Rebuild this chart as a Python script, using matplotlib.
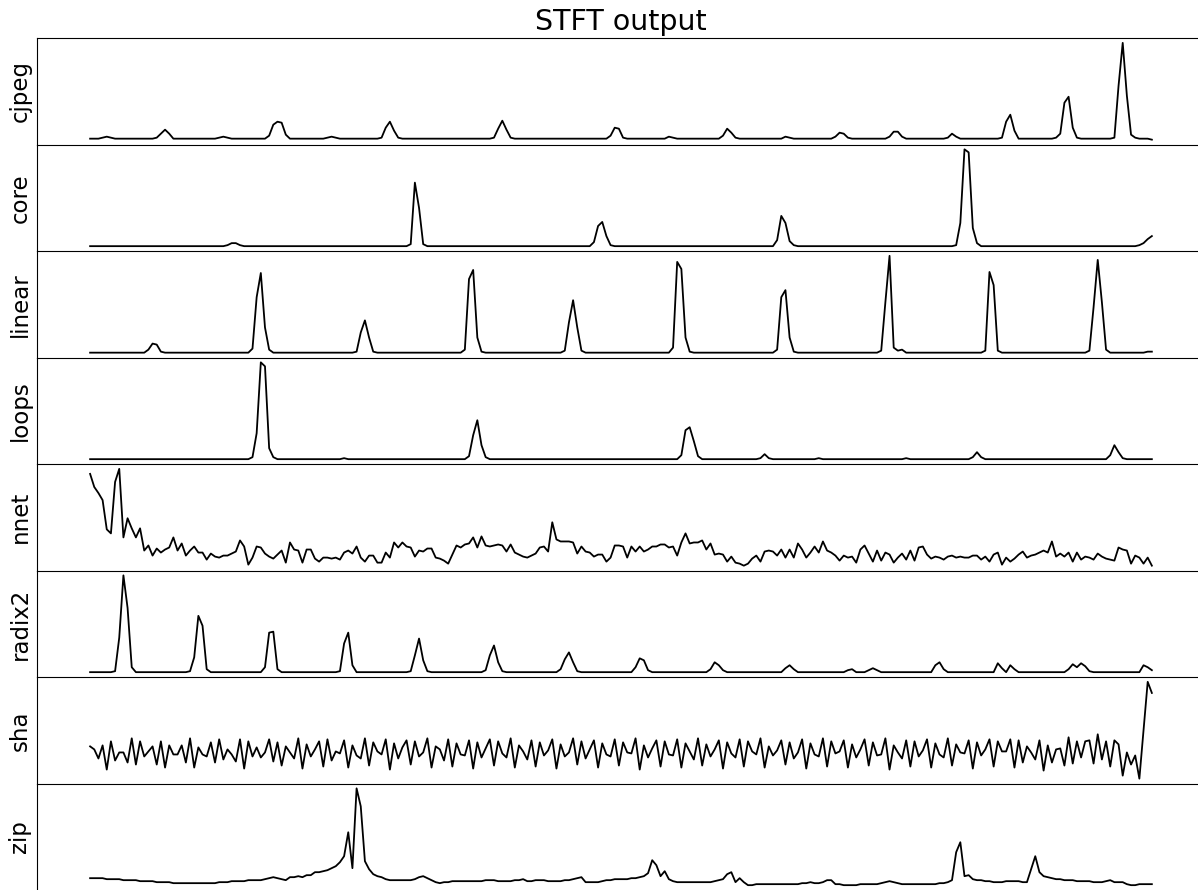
import matplotlib as mpl
mpl.use('Agg')
import matplotlib.pyplot as plt

# benchmark names, one panel each
names = ["cjpeg", "core", "linear", "loops", "nnet", "radix2", "sha", "zip"]

# STFT magnitude per bin (256 bins)
cjpeg = [5,5,5,6,7,6,5,5,5,5,5,5,5,5,5,5,
         6,10,14,10,5,5,5,5,5,5,5,5,5,5,5,6,
         7,6,5,5,5,5,5,5,5,5,5,8,19,22,21,9,
         5,5,5,5,5,5,5,5,5,6,7,6,5,5,5,5,
         5,5,5,5,5,5,6,16,22,13,6,5,5,5,5,5,
         5,5,5,5,5,5,5,5,5,5,5,5,5,5,5,5,
         5,6,15,23,14,6,5,5,5,5,5,5,5,5,5,5,
         5,5,5,5,5,5,5,5,5,5,5,5,5,8,16,15,
         6,5,5,5,5,5,5,5,5,5,5,7,6,5,5,5,
         5,5,5,5,5,5,5,5,8,15,11,6,5,5,5,5,
         5,5,5,5,5,5,5,7,6,5,5,5,5,5,5,5,
         5,5,5,7,11,10,6,5,5,5,5,5,5,5,5,5,
         7,12,12,7,5,5,5,5,5,5,5,5,5,5,6,10,
         7,5,5,5,5,5,5,5,5,5,5,6,22,29,13,5,
         5,5,5,5,5,5,5,5,6,10,41,47,16,6,5,5,
         5,5,5,5,5,5,6,58,101,48,9,6,5,5,5,4]

core = [4,4,4,4,4,4,4,4,4,4,4,4,4,4,4,4,
        4,4,4,4,4,4,4,4,4,4,4,4,4,4,4,4,
        4,5,7,7,5,4,4,4,4,4,4,4,4,4,4,4,
        4,4,4,4,4,4,4,4,4,4,4,4,4,4,4,4,
        4,4,4,4,4,4,4,4,4,4,4,4,4,6,67,42,
        6,4,4,4,4,4,4,4,4,4,4,4,4,4,4,4,
        4,4,4,4,4,4,4,4,4,4,4,4,4,4,4,4,
        4,4,4,4,4,4,4,4,4,8,24,28,14,5,4,4,
        4,4,4,4,4,4,4,4,4,4,4,4,4,4,4,4,
        4,4,4,4,4,4,4,4,4,4,4,4,4,4,4,4,
        4,4,4,4,4,10,34,27,9,5,4,4,4,4,4,4,
        4,4,4,4,4,4,4,4,4,4,4,4,4,4,4,4,
        4,4,4,4,4,4,4,4,4,4,4,4,4,4,4,4,
        5,27,100,97,22,7,4,4,4,4,4,4,4,4,4,4,
        4,4,4,4,4,4,4,4,4,4,4,4,4,4,4,4,
        4,4,4,4,4,4,4,4,4,4,4,4,5,7,11,14]

linear = [5,5,5,5,5,5,5,5,5,5,5,5,5,5,8,14,
          13,6,5,5,5,5,5,5,5,5,5,5,5,5,5,5,
          5,5,5,5,5,5,5,9,60,84,30,8,5,5,5,5,
          5,5,5,5,5,5,5,5,5,5,5,5,5,5,5,5,
          6,25,37,20,6,5,5,5,5,5,5,5,5,5,5,5,
          5,5,5,5,5,5,5,5,5,5,8,78,87,20,6,5,
          5,5,5,5,5,5,5,5,5,5,5,5,5,5,5,5,
          5,5,7,35,57,30,7,5,5,5,5,5,5,5,5,5,
          5,5,5,5,5,5,5,5,5,5,5,5,10,95,88,20,
          6,5,5,5,5,5,5,5,5,5,5,5,5,5,5,5,
          5,5,5,5,5,8,60,67,20,6,5,5,5,5,5,5,
          5,5,5,5,5,5,5,5,5,5,5,5,5,5,7,55,
          101,10,7,8,5,5,5,5,5,5,5,5,5,5,5,5,
          5,5,5,5,5,5,5,7,85,72,7,5,5,5,5,5,
          5,5,5,5,5,5,5,5,5,5,5,5,5,5,5,5,
          7,50,97,55,8,5,5,5,5,5,5,5,5,5,6,6]

loops = [4,4,4,4,4,4,4,4,4,4,4,4,4,4,4,4,
         4,4,4,4,4,4,4,4,4,4,4,4,4,4,4,4,
         4,4,4,4,4,4,4,6,30,101,97,15,6,4,4,4,
         4,4,4,4,4,4,4,4,4,4,4,4,4,5,4,4,
         4,4,4,4,4,4,4,4,4,4,4,4,4,4,4,4,
         4,4,4,4,4,4,4,4,4,4,4,7,28,43,18,6,
         4,4,4,4,4,4,4,4,4,4,4,4,4,4,4,4,
         4,4,4,4,4,4,4,4,4,4,4,4,4,4,4,4,
         4,4,4,4,4,4,4,4,4,4,4,4,4,4,8,33,
         36,22,7,4,4,4,4,4,4,4,4,4,4,4,4,4,
         4,5,9,5,4,4,4,4,4,4,4,4,4,4,4,5,
         4,4,4,4,4,4,4,4,4,4,4,4,4,4,4,4,
         4,4,4,4,5,4,4,4,4,4,4,4,4,4,4,4,
         4,4,4,4,6,11,6,4,4,4,4,4,4,4,4,4,
         4,4,4,4,4,4,4,4,4,4,4,4,4,4,4,4,
         4,4,4,4,4,8,18,11,5,4,4,4,4,4,4,4]

nnet = [95,82,76,69,40,36,87,100,32,51,41,32,41,19,24,14,
        21,17,20,22,32,19,26,14,19,23,17,17,10,16,13,12,
        14,14,16,18,29,23,5,12,23,22,16,13,11,15,19,7,
        27,20,19,7,20,20,11,8,12,12,11,12,10,17,19,16,
        23,12,8,14,14,7,7,17,12,27,22,27,23,22,13,19,
        18,21,21,12,11,9,6,15,24,22,25,26,32,22,33,24,
        23,24,25,24,18,25,17,15,13,12,14,16,22,23,18,47,
        30,28,28,28,27,16,23,18,17,13,15,15,8,12,24,24,
        23,12,23,18,23,18,20,23,23,25,25,22,23,14,27,36,
        26,27,27,29,20,26,15,16,15,8,13,7,6,4,6,11,
        14,8,18,19,18,14,20,12,20,12,26,20,12,17,23,17,
        28,19,17,14,9,14,12,13,7,20,24,16,8,19,9,17,
        15,7,12,16,10,19,9,22,23,15,11,13,12,10,13,14,
        12,13,12,12,14,14,10,13,8,15,17,5,12,8,11,15,
        18,12,14,15,17,19,17,28,13,16,13,17,8,17,10,13,
        12,10,16,13,11,10,9,22,20,19,6,14,12,6,12,4]

radix2 = [5,5,5,5,5,5,6,40,103,70,10,5,5,5,5,5,
          5,5,5,5,5,5,5,5,6,20,62,52,8,5,5,5,
          5,5,5,5,5,5,5,5,5,5,10,45,46,8,5,5,
          5,5,5,5,5,5,5,5,5,5,5,5,6,34,45,12,
          5,5,5,5,5,5,5,5,5,5,5,5,5,6,22,39,
          17,6,5,5,5,5,5,5,5,5,5,5,5,5,5,7,
          22,32,15,6,5,5,5,5,5,5,5,5,5,5,5,5,
          5,8,18,25,15,6,5,5,5,5,5,5,5,5,5,5,
          5,5,5,10,19,17,7,5,5,5,5,5,5,5,5,5,
          5,5,5,5,5,8,15,12,7,5,5,5,5,5,5,5,
          5,5,5,5,5,5,5,9,12,8,5,5,5,5,5,5,
          5,5,5,5,5,5,7,8,5,5,5,7,9,7,5,5,
          5,5,5,5,5,5,5,5,5,5,5,12,15,8,5,5,
          5,5,5,5,5,5,5,5,5,5,14,9,5,12,8,5,
          5,5,5,5,5,5,5,5,5,5,5,8,13,10,14,11,
          6,5,5,5,5,5,5,5,5,5,5,5,5,12,10,7]

sha = [36,33,24,37,13,41,22,30,30,20,44,18,41,26,31,36,
       18,41,15,37,28,28,37,20,44,15,35,28,26,40,20,43,
       23,33,28,21,43,14,41,26,35,25,30,43,21,40,17,36,
       30,24,44,14,38,26,33,41,16,43,22,31,29,42,15,37,
       27,24,44,17,40,31,28,43,13,39,24,35,42,18,41,26,
       30,44,15,36,33,22,43,16,39,28,27,42,14,40,25,34,
       43,17,41,29,25,44,15,37,31,23,42,16,40,27,32,43,
       14,38,26,30,44,18,41,24,33,42,15,39,28,26,43,17,
       40,30,29,44,13,37,25,34,42,16,41,28,27,43,15,39,
       31,23,44,17,38,26,33,42,14,40,29,25,43,16,41,31,
       28,44,15,36,27,32,42,18,40,24,30,43,14,39,28,26,
       44,16,41,29,31,42,15,38,25,33,43,17,40,27,28,44,
       13,37,30,24,42,16,41,26,32,43,15,39,28,25,44,17,
       38,30,29,42,14,40,27,33,43,16,41,31,31,43,15,42,
       20,36,30,23,42,12,37,20,33,34,17,45,19,41,25,41,
       42,19,48,23,41,16,42,38,7,30,18,27,4,52,100,89]

zip_vals = [11,11,11,11,10,10,10,10,9,9,9,9,8,8,8,8,
            7,7,7,7,6,6,6,6,6,6,6,6,6,6,6,7,
            7,7,8,8,8,8,9,9,9,9,10,11,12,11,10,9,
            12,12,13,12,14,14,17,17,18,19,21,23,27,33,57,21,
            101,83,28,20,15,13,12,10,9,9,9,9,9,9,10,12,
            13,11,9,7,6,7,7,8,8,8,8,8,8,8,8,9,
            9,9,8,8,8,8,9,9,10,8,8,9,9,9,8,8,
            8,8,9,9,10,11,12,7,7,7,7,8,9,9,10,10,
            10,10,11,11,12,13,16,29,24,13,18,10,8,7,7,7,
            7,7,7,7,7,7,8,9,10,15,17,7,11,7,4,4,
            5,5,5,5,5,5,5,5,5,5,5,6,6,7,6,6,
            7,9,9,5,5,4,4,4,4,5,5,5,5,5,6,7,
            8,7,6,5,5,5,5,5,5,5,5,5,6,6,7,9,
            37,47,13,14,10,9,9,8,8,7,7,7,8,8,8,8,
            7,7,20,33,17,13,12,11,10,10,9,9,9,8,8,8,
            8,7,7,7,8,9,7,7,7,5,4,4,5,5,5,5]

series = [cjpeg, core, linear, loops, nnet, radix2, sha, zip_vals]

fig, axes = plt.subplots(len(names), 1, sharex=True, figsize=(11.98, 8.90), dpi=100)
plt.subplots_adjust(left=0.0309, right=1.0058, top=0.9573, bottom=0.0, hspace=0)

for ax, name, vals in zip(axes, names, series):
    ax.plot(vals, color='k', linewidth=1.3)
    ax.set_ylabel(name, fontsize=16.5)
    ax.set_xticks([])
    ax.set_yticks([])
    ax.spines['right'].set_visible(False)
    ax.spines['bottom'].set_visible(False)

axes[0].set_title("STFT output", fontsize=20.5)

plt.savefig("out.png", dpi=100)
